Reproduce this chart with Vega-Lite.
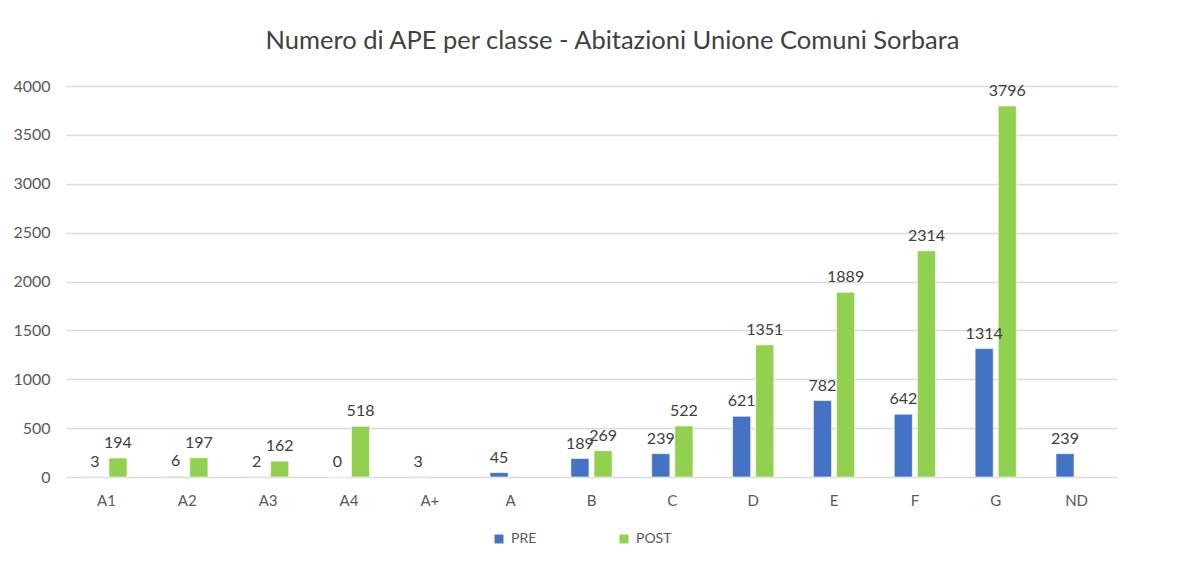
{
  "$schema": "https://vega.github.io/schema/vega-lite/v6.json",
  "width": 1051,
  "height": 391,
  "autosize": {"type": "none"},
  "padding": {"left": 66, "top": 86, "right": 86, "bottom": 85},
  "background": "white",
  "title": {
    "text": "Numero di APE per classe - Abitazioni Unione Comuni Sorbara",
    "font": "Lato",
    "fontSize": 25.5,
    "fontWeight": "normal",
    "color": "#404040",
    "anchor": "middle",
    "offset": 24,
    "dx": 21
  },
  "data": {
    "values": [
      {"classe": "A1", "serie": "PRE", "n": 3},
      {"classe": "A1", "serie": "POST", "n": 194},
      {"classe": "A2", "serie": "PRE", "n": 6},
      {"classe": "A2", "serie": "POST", "n": 197},
      {"classe": "A3", "serie": "PRE", "n": 2},
      {"classe": "A3", "serie": "POST", "n": 162},
      {"classe": "A4", "serie": "PRE", "n": 0},
      {"classe": "A4", "serie": "POST", "n": 518},
      {"classe": "A+", "serie": "PRE", "n": 3},
      {"classe": "A", "serie": "PRE", "n": 45},
      {"classe": "B", "serie": "PRE", "n": 189},
      {"classe": "B", "serie": "POST", "n": 269},
      {"classe": "C", "serie": "PRE", "n": 239},
      {"classe": "C", "serie": "POST", "n": 522},
      {"classe": "D", "serie": "PRE", "n": 621},
      {"classe": "D", "serie": "POST", "n": 1351},
      {"classe": "E", "serie": "PRE", "n": 782},
      {"classe": "E", "serie": "POST", "n": 1889},
      {"classe": "F", "serie": "PRE", "n": 642},
      {"classe": "F", "serie": "POST", "n": 2314},
      {"classe": "G", "serie": "PRE", "n": 1314},
      {"classe": "G", "serie": "POST", "n": 3796},
      {"classe": "ND", "serie": "PRE", "n": 239}
    ]
  },
  "encoding": {
    "x": {
      "field": "classe",
      "type": "nominal",
      "sort": ["A1", "A2", "A3", "A4", "A+", "A", "B", "C", "D", "E", "F", "G", "ND"],
      "scale": {"paddingInner": 0.49, "paddingOuter": 0.245},
      "axis": {
        "title": null,
        "labelAngle": 0,
        "labelFont": "Lato",
        "labelFontSize": 15,
        "labelColor": "#595959",
        "labelPadding": 16,
        "ticks": false,
        "domain": false,
        "grid": false
      }
    },
    "xOffset": {
      "field": "serie",
      "type": "nominal",
      "sort": ["PRE", "POST"],
      "scale": {"domain": ["PRE", "POST"], "paddingInner": 0.217, "paddingOuter": 0}
    },
    "y": {
      "field": "n",
      "type": "quantitative",
      "scale": {"domain": [0, 4000], "nice": false},
      "axis": {
        "title": null,
        "format": "d",
        "values": [0, 500, 1000, 1500, 2000, 2500, 3000, 3500, 4000],
        "labelFont": "Lato",
        "labelFontSize": 16,
        "labelColor": "#595959",
        "labelPadding": 16,
        "ticks": false,
        "domain": false,
        "gridColor": "#d9d9d9",
        "gridWidth": 1.3
      }
    }
  },
  "layer": [
    {
      "mark": {"type": "bar", "stroke": "white", "strokeWidth": 0.6},
      "encoding": {
        "color": {
          "field": "serie",
          "type": "nominal",
          "scale": {"domain": ["PRE", "POST"], "range": ["#4472C4", "#92D050"]},
          "legend": {
            "title": null,
            "orient": "none",
            "direction": "horizontal",
            "legendX": 426,
            "legendY": 446,
            "symbolType": "square",
            "symbolSize": 80,
            "symbolStrokeWidth": 0,
            "labelFont": "Lato",
            "labelFontSize": 14,
            "labelColor": "#595959",
            "labelOffset": 5,
            "columnPadding": 80
          }
        }
      }
    },
    {
      "mark": {
        "type": "text",
        "baseline": "bottom",
        "dy": -7,
        "font": "Lato",
        "fontSize": 16,
        "color": "#404040"
      },
      "encoding": {
        "text": {"field": "n", "type": "quantitative", "format": "d"}
      }
    }
  ],
  "config": {
    "view": {"stroke": null}
  }
}
